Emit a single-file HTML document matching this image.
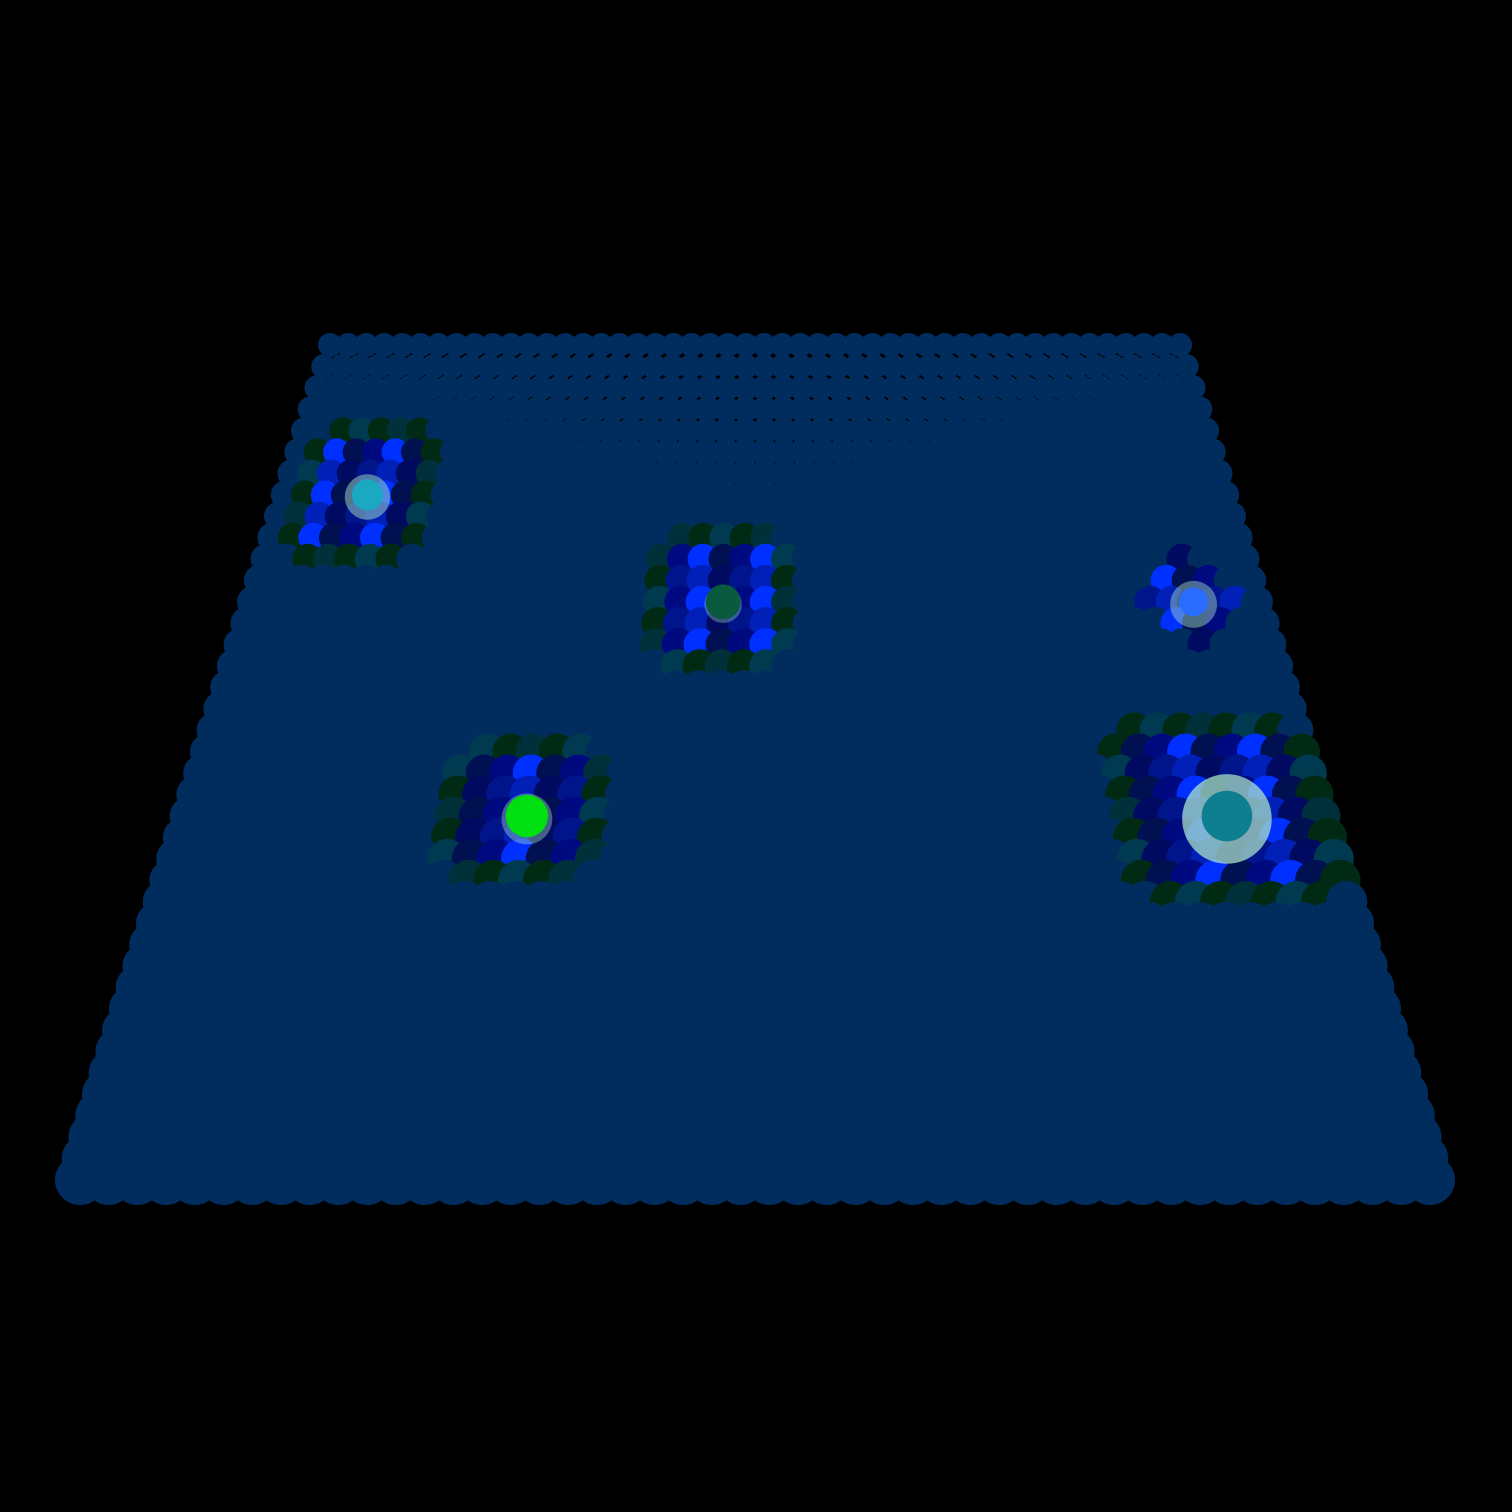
<!DOCTYPE html>
<html><head><meta charset="utf-8"><style>html,body{margin:0;background:#000;}svg{display:block}</style></head>
<body>
<svg id="chart" width="1512" height="1512" viewBox="0 0 1512 1512" xmlns="http://www.w3.org/2000/svg">
<rect width="1512" height="1512" fill="#000"/>
<g id="grid"></g>
<g id="peaks"></g>
</svg>
<script>
// data: peak positions (grid fraction u across, v down), core colors, sizes
const peakU = [0.093, 0.47, 0.933, 0.29, 0.914];
const peakV = [0.168, 0.297, 0.311, 0.557, 0.575];
const peakCore = ['#1aa9c0', '#0a5a40', '#2a6cff', '#00e010', '#0e7f90'];
const peakRadius = [3, 3, 2, 3, 4];
const peakHalo = [0.5, 0.2, 0.4, 0.3, 1];
const outerColors = ['#002a14', '#00303a', '#002a14', '#003a50'];
const innerColors = ['#000a60', '#0030ff', '#00158c', '#001050', '#0020b8', '#000a80'];
const NC = 48, NR = 40;

const NS = 'http://www.w3.org/2000/svg';
const topY = 345, botY = 1180, topL = 330, topR = 1180, botL = 80, botR = 1430;
function yS(v){ return topY + v*(botY-topY); }
function xS(u, v){ const l = topL + (botL-topL)*v, r = topR + (botR-topR)*v; return l + u*(r-l); }
function rS(v){ return 12 + 13*v; }

const grid = document.getElementById('grid');
const peaks = document.getElementById('peaks');

for (let j = 0; j < NR; j++) {
  for (let i = 0; i < NC; i++) {
    const u = i/(NC-1), v = j/(NR-1);
    let fill = '#002d5e';
    for (let k = 0; k < peakU.length; k++) {
      const di = Math.abs(i - Math.round(peakU[k]*(NC-1))), dj = Math.abs(j - Math.round(peakV[k]*(NR-1)));
      const R = peakRadius[k];
      const d = (k === 2) ? di + dj : Math.max(di, dj);
      if (d <= R && !(k !== 2 && di === R && dj === R)) {
        if (d === R && k !== 2) fill = outerColors[(i + j) % outerColors.length];
        else fill = innerColors[(i*2 + j*3 + k) % innerColors.length];
      }
    }
    const c = document.createElementNS(NS, 'circle');
    c.setAttribute('cx', xS(u, v));
    c.setAttribute('cy', yS(v));
    c.setAttribute('r', rS(v));
    c.setAttribute('fill', fill);
    
    
    grid.appendChild(c);
  }
}

for (let k = 0; k < peakU.length; k++) {
  const cx = xS(Math.round(peakU[k]*(NC-1))/(NC-1), peakV[k]);
  const cy = yS(Math.round(peakV[k]*(NR-1))/(NR-1));
  const s = rS(peakV[k]);
  const halo = document.createElementNS(NS, 'circle');
  halo.setAttribute('cx', cx); halo.setAttribute('cy', cy + s*0.15);
  halo.setAttribute('r', s*(0.9 + peakHalo[k]*1.4));
  halo.setAttribute('fill', '#a8e0c8');
  halo.setAttribute('opacity', 0.25 + peakHalo[k]*0.5);
  
  
  peaks.appendChild(halo);
  const core = document.createElementNS(NS, 'circle');
  core.setAttribute('cx', cx); core.setAttribute('cy', cy);
  core.setAttribute('r', s*(0.5 + peakRadius[k]*0.2));
  core.setAttribute('fill', peakCore[k]);
  
  
  peaks.appendChild(core);
}
</script>
</body></html>
